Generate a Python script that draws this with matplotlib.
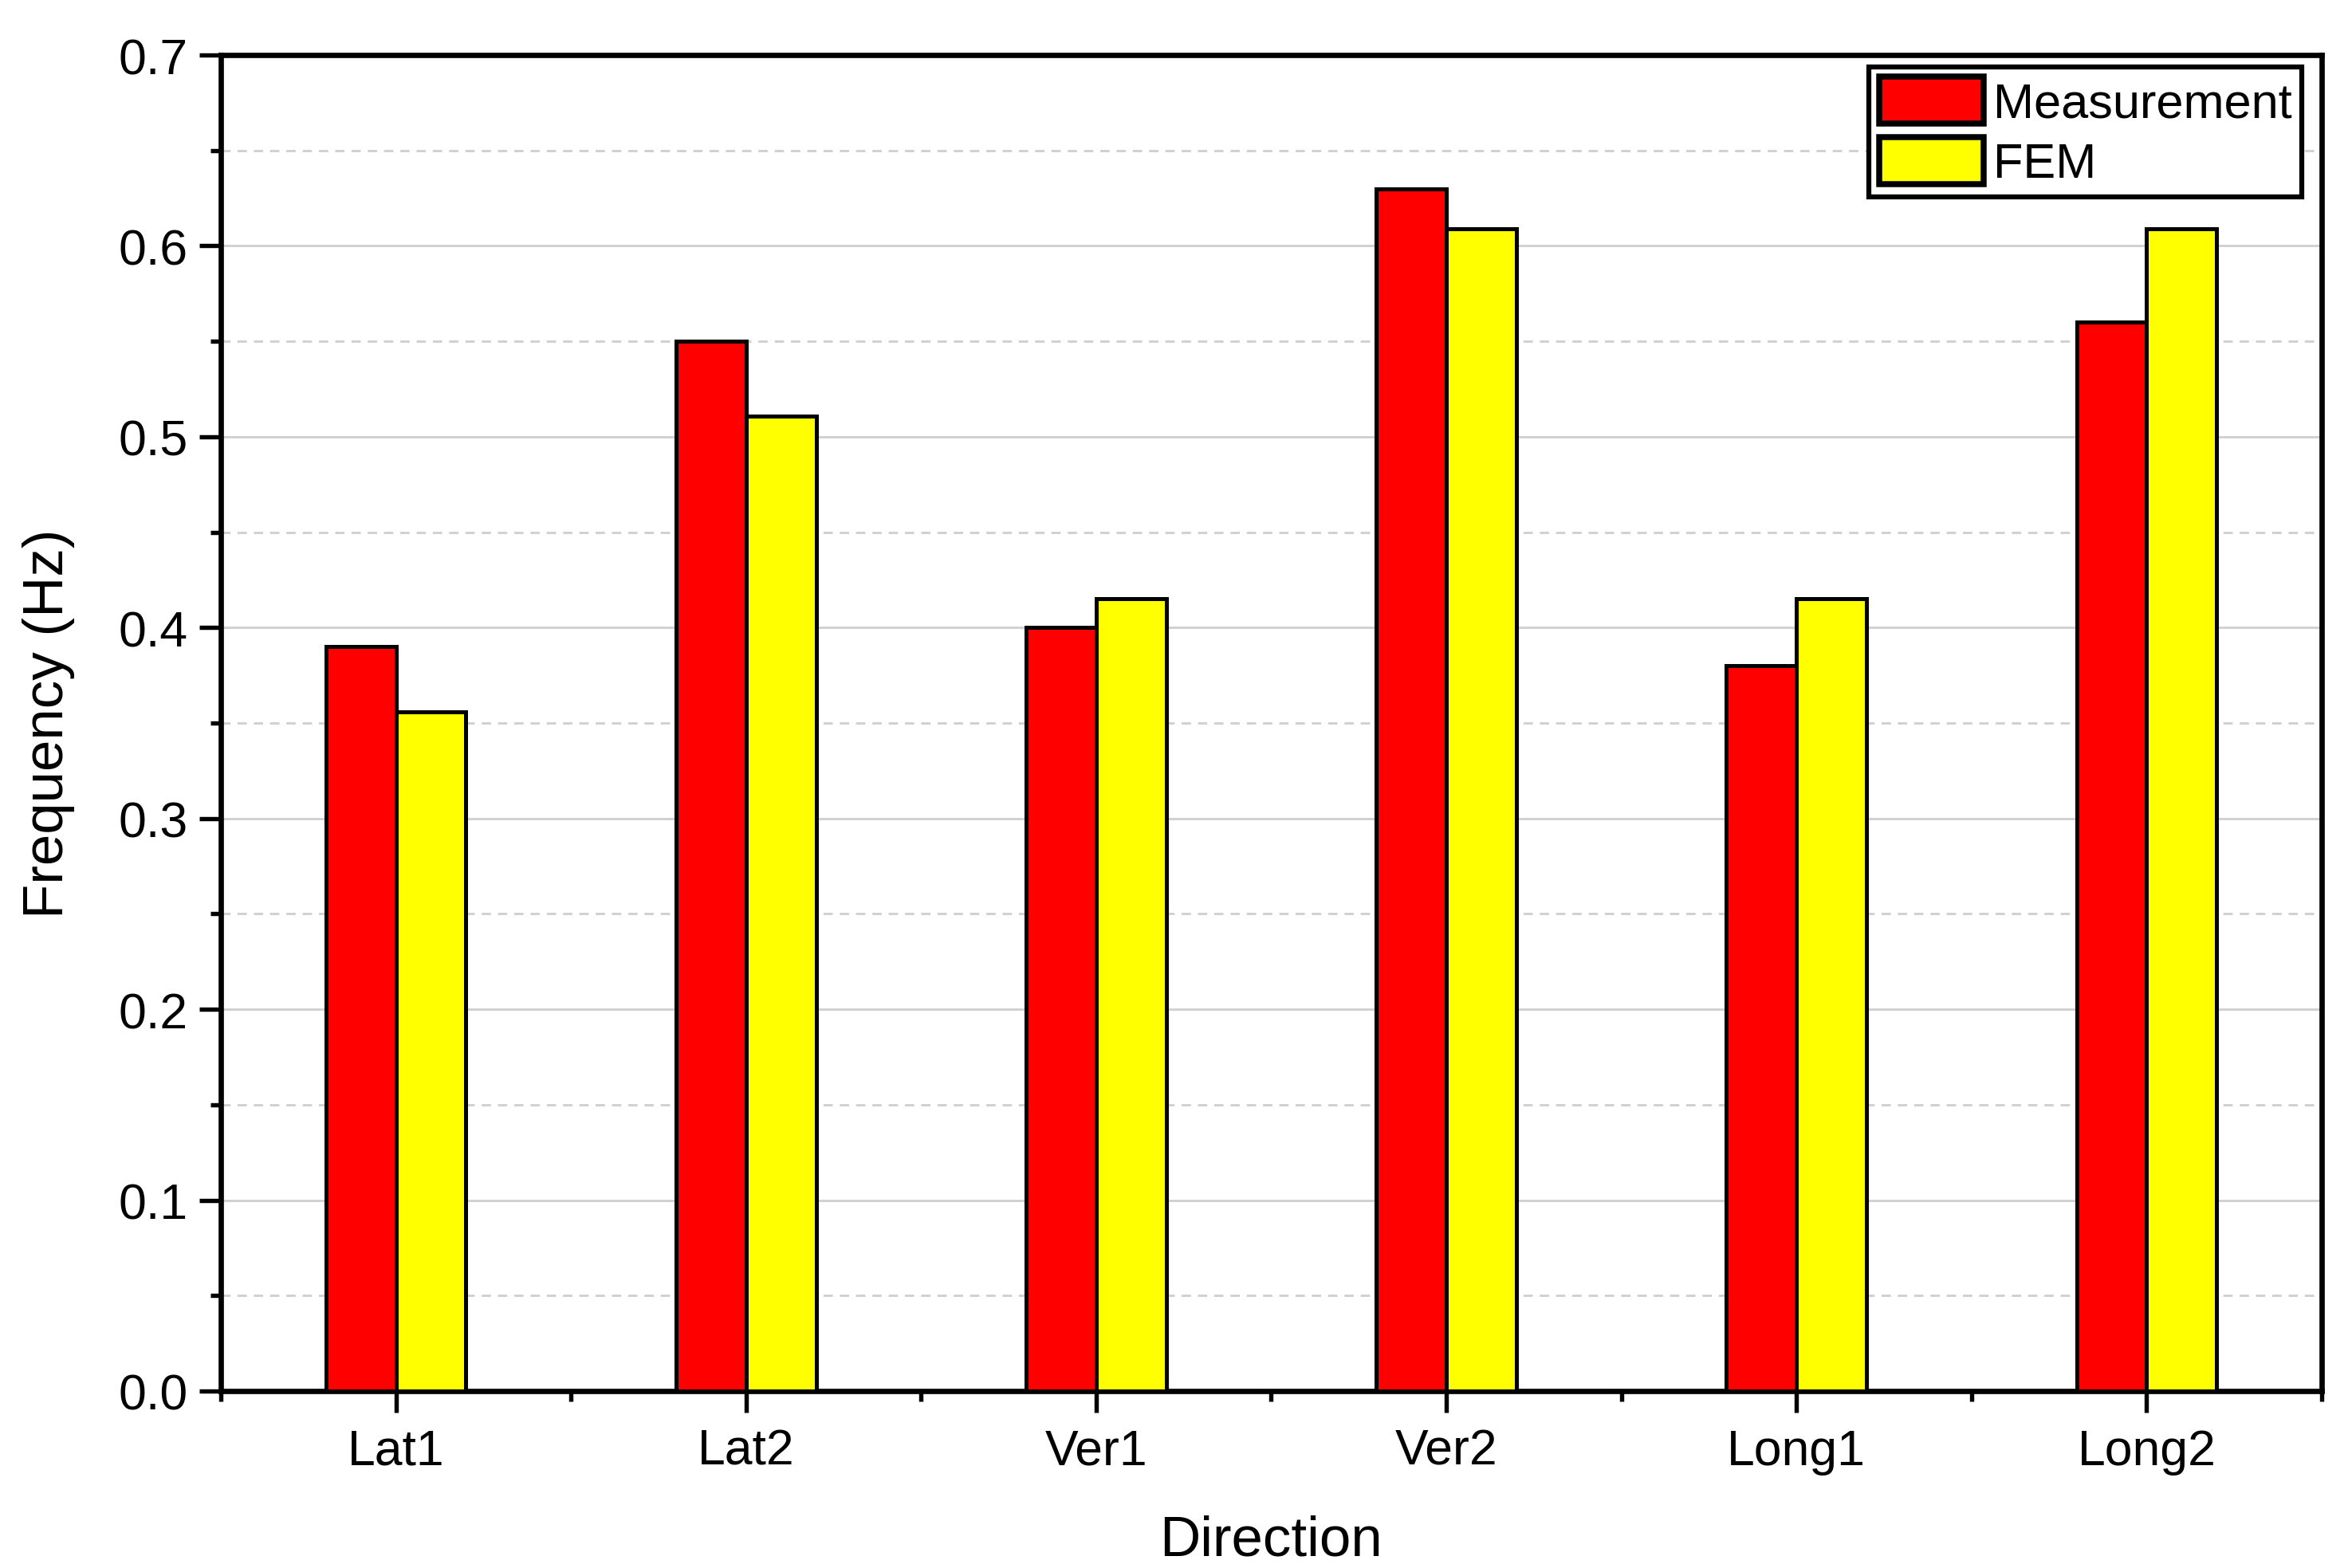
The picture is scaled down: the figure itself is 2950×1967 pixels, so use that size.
import matplotlib
matplotlib.use("Agg")
import matplotlib.pyplot as plt
import numpy as np

categories = ["Lat1", "Lat2", "Ver1", "Ver2", "Long1", "Long2"]
measurement = [0.39, 0.55, 0.40, 0.63, 0.38, 0.56]
fem = [0.356, 0.511, 0.415, 0.609, 0.415, 0.609]
series_names = ["Measurement", "FEM"]
y_ticks = [0.0, 0.1, 0.2, 0.3, 0.4, 0.5, 0.6, 0.7]

plt.rcParams['font.family'] = ['Liberation Sans', 'DejaVu Sans']

fig = plt.figure(figsize=(2950/300, 1968/300), dpi=300)
ax = fig.add_axes([277/2950, 1 - 1746/1968, (2912-277)/2950, (1746-70)/1968])

x = np.arange(len(categories))
w = 0.2
ax.bar(x - w/2, measurement, width=w, color="#ff0000", edgecolor="black", linewidth=1.2, label=series_names[0], zorder=3)
ax.bar(x + w/2, fem, width=w, color="#ffff00", edgecolor="black", linewidth=1.2, label=series_names[1], zorder=3)

ax.set_xlim(-0.5, len(categories) - 0.5)
ax.set_ylim(0, 0.7)
ax.set_xticks(x)
ax.set_xticklabels(categories)
ax.set_xticks(np.arange(-0.5, len(categories), 1.0), minor=True)
ax.set_yticks(y_ticks)
ax.set_yticklabels([f"{v:.1f}" for v in y_ticks])
ax.set_yticks(np.arange(0.05, 0.7, 0.1), minor=True)

ax.grid(which="major", axis="y", color="#d0d0d0", linewidth=0.7, linestyle="-", zorder=0)
ax.grid(which="minor", axis="y", color="#d0d0d0", linewidth=0.7, linestyle=(0, (4, 3)), zorder=0)
ax.set_axisbelow(True)

for s in ax.spines.values():
    s.set_linewidth(1.6)
ax.tick_params(which="major", direction="out", length=6.5, width=1.3, labelsize=15)
ax.tick_params(axis="y", which="major", pad=3.5)
ax.tick_params(axis="x", which="major", pad=4.5)
ax.tick_params(which="minor", direction="out", length=3.2, width=1.3)

ax.set_xlabel("Direction", fontsize=17, labelpad=12)
ax.set_ylabel("Frequency (Hz)", fontsize=17, labelpad=13)

leg = ax.legend(loc="upper right", bbox_to_anchor=(0.9907, 0.991), borderaxespad=0,
                fontsize=14.7, frameon=True, fancybox=False, edgecolor="black",
                handlelength=2.15, handleheight=1.1, handletextpad=0.2,
                borderpad=0.2, labelspacing=0.2)
leg.get_frame().set_linewidth(1.5)
leg.get_frame().set_alpha(1)
for h in leg.legend_handles:
    h.set_linewidth(1.8)

fig.savefig("out.png", dpi=300)
